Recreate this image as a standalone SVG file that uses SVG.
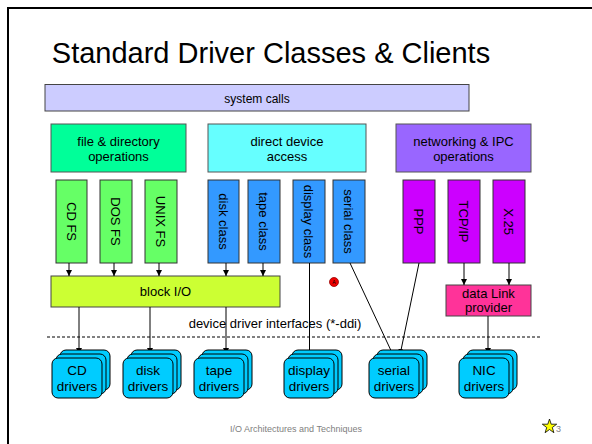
<svg xmlns="http://www.w3.org/2000/svg" width="592" height="444" viewBox="0 0 592 444">
  <style>
    text { font-family: "Liberation Sans", Arial, sans-serif; fill: #000; }
    .title { font-size: 29px; text-anchor: middle; }
    .lbl { font-size: 13px; text-anchor: middle; }
    .sm { font-size: 12px; text-anchor: middle; }
    .drv { font-size: 13.5px; text-anchor: middle; }
    .box { stroke: #444; stroke-width: 1; }
    .cat { stroke: #555; stroke-width: 1; }
    .fs { fill: #66FF66; stroke: #333; stroke-width: 1; }
    .cls { fill: #3399FF; stroke: #333; stroke-width: 1; }
    .net { fill: #CC00FF; stroke: #333; stroke-width: 1; }
    .stack { fill: #00CCFF; stroke: #000; stroke-width: 1; }
    .wire { stroke: #000; stroke-width: 1; fill: none; }
    .foot { font-size: 9px; fill: #808080; }
  </style>
  <defs>
    <marker id="arrow" viewBox="0 0 8 8" refX="8" refY="4" markerWidth="6" markerHeight="6" markerUnits="userSpaceOnUse" orient="auto">
      <path d="M0,0 L8,4 L0,8 Z" fill="#000"/>
    </marker>
    <!-- stacked rounded driver card, front card at origin -->
    <g id="stack3">
      <rect class="stack" x="8" y="-8" width="50" height="40" rx="6"/>
      <rect class="stack" x="4" y="-4" width="50" height="40" rx="6"/>
      <rect class="stack" x="0" y="0" width="50" height="40" rx="6"/>
    </g>
  </defs>

  <!-- slide frame -->
  <rect x="8" y="8" width="600" height="450" fill="none" stroke="#000" stroke-width="2"/>

  <text class="title" x="271" y="63">Standard Driver Classes &amp; Clients</text>

  <g id="system-calls">
    <rect class="box" x="45" y="84.5" width="424" height="26.5" fill="#CCCCFF"/>
    <text class="sm" x="257" y="103">system calls</text>
  </g>

  <g id="file-dir-ops">
    <rect class="cat" x="51" y="124" width="135" height="48" fill="#00FF99"/>
    <text class="lbl" x="118.5" y="146">file &amp; directory</text>
    <text class="lbl" x="118.5" y="161">operations</text>
  </g>
  <g id="direct-device">
    <rect class="cat" x="208" y="124" width="158" height="48" fill="#66FFFF"/>
    <text class="lbl" x="287" y="146">direct device</text>
    <text class="lbl" x="287" y="161">access</text>
  </g>
  <g id="net-ipc-ops">
    <rect class="cat" x="396" y="124" width="135" height="48" fill="#9966FF"/>
    <text class="lbl" x="463.5" y="146">networking &amp; IPC</text>
    <text class="lbl" x="463.5" y="161">operations</text>
  </g>

  <!-- file systems -->
  <g id="cd-fs">
    <rect class="fs" x="56" y="180" width="31" height="83"/>
    <text class="lbl" transform="translate(66.8,221.5) rotate(90)">CD FS</text>
  </g>
  <g id="dos-fs">
    <rect class="fs" x="100" y="180" width="32" height="83"/>
    <text class="lbl" transform="translate(111.3,221.5) rotate(90)">DOS FS</text>
  </g>
  <g id="unix-fs">
    <rect class="fs" x="145" y="180" width="32" height="83"/>
    <text class="lbl" transform="translate(156.3,221.5) rotate(90)">UNIX FS</text>
  </g>

  <!-- device classes -->
  <g id="disk-class">
    <rect class="cls" x="208" y="180" width="31" height="83"/>
    <text class="lbl" transform="translate(218.8,221.5) rotate(90)">disk class</text>
  </g>
  <g id="tape-class">
    <rect class="cls" x="248" y="180" width="32" height="83"/>
    <text class="lbl" transform="translate(259.3,221.5) rotate(90)">tape class</text>
  </g>
  <g id="display-class">
    <rect class="cls" x="293" y="180" width="32" height="83"/>
    <text class="lbl" transform="translate(304.3,221.5) rotate(90)">display class</text>
  </g>
  <g id="serial-class">
    <rect class="cls" x="333" y="180" width="32" height="83"/>
    <text class="lbl" transform="translate(344.3,221.5) rotate(90)">serial class</text>
  </g>

  <!-- network protocols -->
  <g id="ppp">
    <rect class="net" x="403" y="180" width="32" height="83"/>
    <text class="lbl" transform="translate(414.3,221.5) rotate(90)">PPP</text>
  </g>
  <g id="tcp-ip">
    <rect class="net" x="448" y="180" width="32" height="83"/>
    <text class="lbl" transform="translate(459.3,221.5) rotate(90)">TCP/IP</text>
  </g>
  <g id="x25">
    <rect class="net" x="493" y="180" width="32" height="83"/>
    <text class="lbl" transform="translate(504.3,221.5) rotate(90)">X.25</text>
  </g>

  <g id="block-io">
    <rect class="box" x="51" y="276" width="229" height="31" fill="#CCFF33"/>
    <text class="lbl" x="165.5" y="296">block I/O</text>
  </g>

  <g id="data-link">
    <rect class="box" x="446" y="285" width="85" height="31" fill="#FF3399"/>
    <text class="lbl" x="488.5" y="298">data Link</text>
    <text class="lbl" x="488.5" y="312">provider</text>
  </g>

  <g id="marker-dot">
    <circle cx="334" cy="282" r="4.5" fill="#EE0000" stroke="#990000" stroke-width="0.8"/>
    <text x="334" y="284" font-size="5" text-anchor="middle">A</text>
  </g>

  <!-- interface boundary -->
  <g id="ddi">
    <line x1="47" y1="337" x2="540" y2="337" stroke="#000" stroke-width="1" stroke-dasharray="3,2"/>
    <text class="lbl" x="275" y="328">device driver interfaces (*-ddi)</text>
  </g>

  <g id="connectors">
    <line class="wire" x1="69" y1="263" x2="69" y2="276" marker-end="url(#arrow)"/>
    <line class="wire" x1="114" y1="263" x2="114" y2="276" marker-end="url(#arrow)"/>
    <line class="wire" x1="159" y1="263" x2="159" y2="276" marker-end="url(#arrow)"/>
    <line class="wire" x1="226" y1="263" x2="226" y2="276" marker-end="url(#arrow)"/>
    <line class="wire" x1="263" y1="263" x2="263" y2="276" marker-end="url(#arrow)"/>
    <line class="wire" x1="464" y1="263" x2="464" y2="285" marker-end="url(#arrow)"/>
    <line class="wire" x1="509" y1="263" x2="509" y2="285" marker-end="url(#arrow)"/>
    <line class="wire" x1="79" y1="307" x2="79" y2="354" marker-end="url(#arrow)"/>
    <line class="wire" x1="150" y1="307" x2="150" y2="354" marker-end="url(#arrow)"/>
    <line class="wire" x1="226" y1="307" x2="226" y2="354" marker-end="url(#arrow)"/>
    <line class="wire" x1="309.5" y1="263" x2="309.5" y2="357" marker-end="url(#arrow)"/>
    <line class="wire" x1="350" y1="263" x2="394" y2="357" marker-end="url(#arrow)"/>
    <line class="wire" x1="419" y1="263" x2="400" y2="355" marker-end="url(#arrow)"/>
    <line class="wire" x1="488" y1="316" x2="488" y2="354" marker-end="url(#arrow)"/>
  </g>

  <!-- driver stacks -->
  <g id="cd-drivers">
    <use href="#stack3" x="52" y="358"/>
    <text class="drv" x="77" y="375">CD</text>
    <text class="drv" x="77" y="391">drivers</text>
  </g>
  <g id="disk-drivers">
    <use href="#stack3" x="123" y="358"/>
    <text class="drv" x="148" y="375">disk</text>
    <text class="drv" x="148" y="391">drivers</text>
  </g>
  <g id="tape-drivers">
    <use href="#stack3" x="194" y="358"/>
    <text class="drv" x="219" y="375">tape</text>
    <text class="drv" x="219" y="391">drivers</text>
  </g>
  <g id="display-drivers">
    <use href="#stack3" x="284" y="358"/>
    <text class="drv" x="309" y="375">display</text>
    <text class="drv" x="309" y="391">drivers</text>
  </g>
  <g id="serial-drivers">
    <use href="#stack3" x="369" y="358"/>
    <text class="drv" x="394" y="375">serial</text>
    <text class="drv" x="394" y="391">drivers</text>
  </g>
  <g id="nic-drivers">
    <use href="#stack3" x="459" y="358"/>
    <text class="drv" x="484" y="375">NIC</text>
    <text class="drv" x="484" y="391">drivers</text>
  </g>

  <!-- footer -->
  <text class="foot" x="296" y="432" text-anchor="middle">I/O Architectures and Techniques</text>
  <polygon points="549.5,419 551.2,424.2 556.7,424.2 552.3,427.5 553.9,432.7 549.5,429.5 545.1,432.7 546.7,427.5 542.3,424.2 547.8,424.2" fill="#FFFF00" stroke="#000" stroke-width="0.8"/>
  <text class="foot" x="556" y="432">3</text>
</svg>
